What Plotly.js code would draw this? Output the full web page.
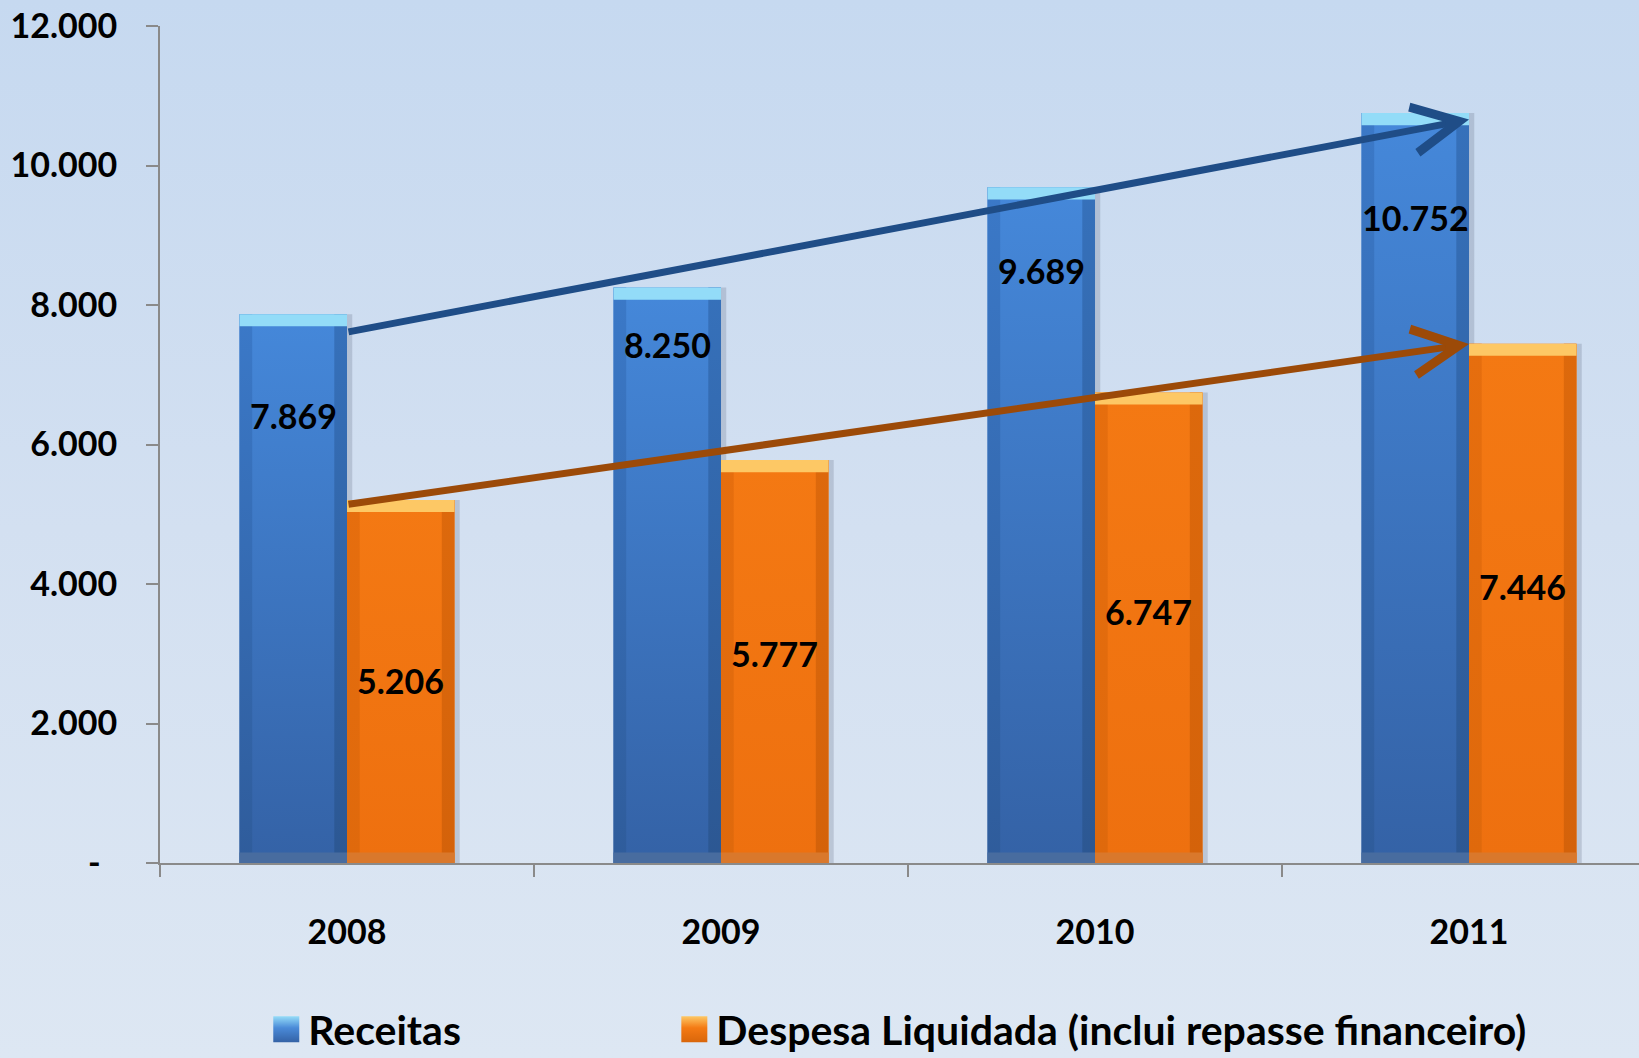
<!DOCTYPE html>
<html>
<head>
<meta charset="utf-8">
<script src="https://cdn.plot.ly/plotly-3.0.1.min.js"></script>
<style>
  html, body { margin: 0; padding: 0; }
  body { width: 1639px; height: 1058px; overflow: hidden;
         background: linear-gradient(to bottom, #c6d9f0 0%, #d3e0f1 50%, #dde7f3 100%); }
  #chart { width: 1639px; height: 1058px; }
</style>
</head>
<body>
<div id="chart"></div>
<script>
// ---------- data ----------
const years = ['2008', '2009', '2010', '2011'];
const receitas = [7869, 8250, 9689, 10752];
const despesa = [5206, 5777, 6747, 7446];
const receitasLabelY = [6410, 7430, 8490, 9250];   // label positions
const despesaLabelY = [2620, 3010, 3610, 3960];
const trendYears = ['2008', '2011'];
const trendReceitas = [7610, 10660];
const trendDespesa = [5140, 7440];
const yTickVals = [0, 2000, 4000, 6000, 8000, 10000, 12000];
const yTickText = ['-\u00a0\u00a0', '2.000', '4.000', '6.000', '8.000', '10.000', '12.000'];
const seriesNames = ['Receitas', 'Despesa Liquidada (inclui repasse financeiro)'];

// ---------- style ----------
const FONT = 'Lato, "Open Sans", sans-serif';
const W = 0.2874;      // bar width (category units)
const S = 0.034;       // bevel side width
const BEV = 175;       // bevel height in value units
const fmt = v => String(v).replace(/\B(?=(\d{3})+(?!\d))/g, '.');

const styles = [
  { face: '#3f7dcc', left: '#3773c0', right: '#3269b0', top: '#93dcf8', bottom: '#486c9f', off: -W, legend: 'legend' },
  { face: '#f17512', left: '#e36c0d', right: '#d9660b', top: '#fdc865', bottom: '#d9782c', off: 0, legend: 'legend2' }
];
const data = [receitas, despesa];

const traces = [];
const gradMap = []; // index among bar traces -> gradient id
function bar(y, base, offset, width, color, name, showlegend, grad, legend) {
  const t = {
    type: 'bar', x: years, y: y, base: base, offset: offset, width: width,
    marker: { color: color, line: { width: 0 } },
    name: name, showlegend: showlegend, hoverinfo: 'skip'
  };
  if (legend) t.legend = legend;
  traces.push(t);
  gradMap.push(grad || null);
}
// shadows
styles.forEach((st, k) => {
  bar(data[k], undefined, st.off + W, 0.014, 'rgba(80,92,115,0.22)', 'sh' + k, false);
});
styles.forEach((st, k) => {
  const vals = data[k];
  bar(vals, undefined, st.off, W, st.face, seriesNames[k], true, 'g' + k + 'face', st.legend);
  bar(vals, undefined, st.off, S, st.left, 'l' + k, false, 'g' + k + 'left');
  bar(vals, undefined, st.off + W - S, S, st.right, 'r' + k, false, 'g' + k + 'right');
  bar(vals.map(() => BEV), vals.map(v => v - BEV), st.off, W, st.top, 't' + k, false);
  bar(vals.map(() => BEV * 0.85), vals.map(() => 0), st.off, W, st.bottom, 'b' + k, false);
});

const annotations = [];
// trend arrows (tail -> head, in data coordinates)
[[trendReceitas, '#1f4d87'], [trendDespesa, '#9c4a08']].forEach(([ty, c]) => {
  annotations.push({
    xref: 'x', yref: 'y', axref: 'x', ayref: 'y',
    x: years.indexOf(trendYears[1]), y: ty[1],
    ax: years.indexOf(trendYears[0]), ay: ty[0],
    text: '', showarrow: true, arrowhead: 5, arrowsize: 1.3, arrowwidth: 7,
    arrowcolor: c, standoff: 0, startstandoff: 0
  });
});

// value labels
[[receitas, receitasLabelY, -W / 2], [despesa, despesaLabelY, W / 2]].forEach(([vals, ly, dx]) => {
  vals.forEach((v, i) => {
    annotations.push({
      x: i + dx, y: ly[i], xref: 'x', yref: 'y', text: fmt(v), showarrow: false,
      font: { family: FONT, size: 34, color: '#000', weight: 'bold' }
    });
  });
});

const legendBase = {
  orientation: 'h', xanchor: 'left', y: -0.199, yanchor: 'middle',
  font: { family: FONT, size: 41, color: '#000', weight: 'bold' },
  bgcolor: 'rgba(0,0,0,0)', itemwidth: 34
};

const layout = {
  width: 1639, height: 1058,
  paper_bgcolor: 'rgba(0,0,0,0)', plot_bgcolor: 'rgba(0,0,0,0)',
  margin: { l: 160, r: 0, t: 26, b: 195, autoexpand: false },
  barmode: 'overlay',
  showlegend: true,
  xaxis: {
    type: 'category', categoryorder: 'array', categoryarray: years,
    range: [-0.5, 3.4545], tickson: 'boundaries',
    ticks: 'outside', ticklen: 12, tickwidth: 2, tickcolor: '#8a8a8a',
    showline: true, linecolor: '#8a8a8a', linewidth: 2, showgrid: false, zeroline: false,
    tickfont: { family: FONT, size: 34, color: '#000', weight: 'bold' },
    ticklabelstandoff: 38
  },
  yaxis: {
    range: [0, 12000], tickvals: yTickVals, ticktext: yTickText,
    ticks: 'outside', ticklen: 12, tickwidth: 2, tickcolor: '#8a8a8a',
    showline: true, linecolor: '#8a8a8a', linewidth: 2, showgrid: false, zeroline: false,
    tickfont: { family: FONT, size: 34, color: '#000', weight: 'bold' },
    ticklabelstandoff: 22
  },
  legend: Object.assign({}, legendBase, { x: 0.0705 }),
  legend2: Object.assign({}, legendBase, { x: 0.3464 }),
  annotations: annotations
};

Plotly.newPlot('chart', traces, layout, { staticPlot: true }).then(gd => {
  const ns = 'http://www.w3.org/2000/svg';
  const svg = gd.querySelector('.main-svg');
  let defs = svg.querySelector('defs');
  if (!defs) { defs = document.createElementNS(ns, 'defs'); svg.insertBefore(defs, svg.firstChild); }
  function grad(id, stops) {
    const g = document.createElementNS(ns, 'linearGradient');
    g.setAttribute('id', id);
    g.setAttribute('x1', '0'); g.setAttribute('y1', '0'); g.setAttribute('x2', '0'); g.setAttribute('y2', '1');
    stops.forEach(([o, c]) => {
      const s = document.createElementNS(ns, 'stop');
      s.setAttribute('offset', o); s.setAttribute('stop-color', c);
      g.appendChild(s);
    });
    defs.appendChild(g);
  }
  grad('g0face', [[0, '#4588da'], [1, '#3462a6']]);
  grad('g0left', [[0, '#3b79c8'], [1, '#2f5c9b']]);
  grad('g0right', [[0, '#3671bb'], [1, '#2c5792']]);
  grad('g1face', [[0, '#f47913'], [1, '#ee700f']]);
  grad('g1left', [[0, '#e66e0e'], [1, '#df690c']]);
  grad('g1right', [[0, '#dd690c'], [1, '#d4620a']]);
  grad('lg0', [[0, '#95dcf8'], [0.45, '#4a8ad8'], [1, '#3462a6']]);
  grad('lg1', [[0, '#fdc865'], [0.45, '#f47a14'], [1, '#d9660b']]);

  const groups = gd.querySelectorAll('.barlayer .trace.bars');
  groups.forEach((g, i) => {
    const id = gradMap[i];
    if (id) g.querySelectorAll('path').forEach(p => { p.style.fill = 'url(#' + id + ')'; });
  });
  const legPaths = gd.querySelectorAll('.infolayer .legendpoints path');
  legPaths.forEach((p, i) => {
    p.setAttribute('d', 'M13,13H-13V-13H13Z');
    p.style.fill = 'url(#lg' + i + ')';
  });
});
</script>
</body>
</html>
